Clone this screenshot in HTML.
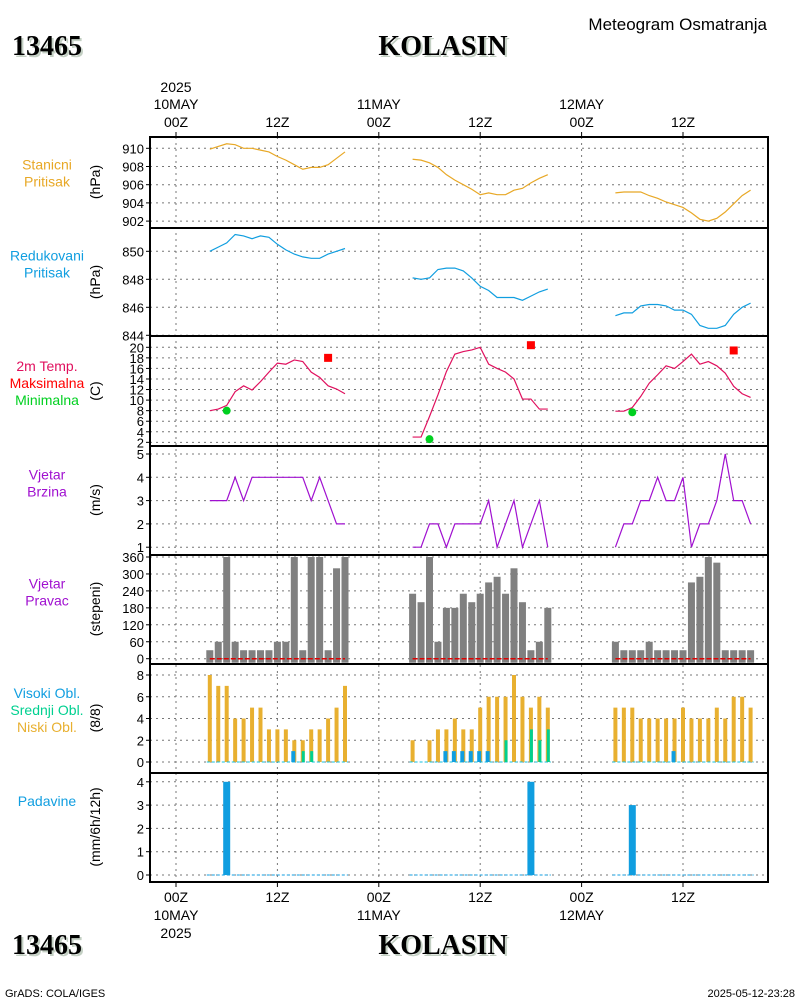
<!DOCTYPE html>
<html><head><meta charset="utf-8"><style>
body{margin:0;background:#fff;}
</style></head><body>
<svg id="chart" width="800" height="1000" viewBox="0 0 800 1000" xmlns="http://www.w3.org/2000/svg" font-family="Liberation Sans, sans-serif">
<rect width="800" height="1000" fill="#fff"/>
<g id="g"></g>
</svg>
<script>
// ---- data (hourly, hours from 10MAY 00Z) ----
const seg1Hours=[4,5,6,7,8,9,10,11,12,13,14,15,16,17,18,19,20];
const seg2Hours=[28,29,30,31,32,33,34,35,36,37,38,39,40,41,42,43,44];
const seg3Hours=[52,53,54,55,56,57,58,59,60,61,62,63,64,65,66,67,68];
const stnPres1=[909.9,910.2,910.5,910.4,910.0,910.0,909.8,909.6,909.1,908.7,908.2,907.7,907.9,907.9,908.2,908.9,909.6];
const stnPres2=[908.8,908.7,908.4,907.9,907.1,906.5,906.0,905.5,904.9,905.1,904.9,904.9,905.4,905.6,906.2,906.7,907.1];
const stnPres3=[905.1,905.2,905.2,905.2,904.8,904.5,904.1,903.8,903.5,902.9,902.2,902.0,902.3,903.0,903.9,904.8,905.4];
const redPres1=[850.0,850.3,850.6,851.2,851.1,850.9,851.1,851.0,850.5,850.1,849.8,849.6,849.5,849.5,849.8,850.0,850.2];
const redPres2=[848.1,848.0,848.1,848.7,848.8,848.8,848.6,848.1,847.5,847.2,846.7,846.7,846.7,846.5,846.8,847.1,847.3];
const redPres3=[845.4,845.6,845.6,846.1,846.2,846.2,846.1,845.8,845.8,845.5,844.7,844.5,844.5,844.7,845.5,846.0,846.3];
const temp1=[8.0,8.3,9.0,11.6,12.7,11.9,13.5,15.3,17.0,16.8,17.6,17.3,15.3,14.3,12.7,12.1,11.2];
const temp2=[3.0,3.0,6.9,11.0,15.4,18.7,19.2,19.5,20.0,16.8,16.0,15.3,14.0,10.2,10.2,8.3,8.3];
const temp3=[7.9,7.9,8.6,10.7,13.2,14.8,16.5,16.0,17.3,18.7,16.8,17.3,16.5,15.1,12.6,11.2,10.5];
const tmaxHours=[18,42,66];
const tmaxVals=[18.0,20.4,19.4];
const tminHours=[6,30,54];
const tminVals=[8.0,2.6,7.7];
const wspd1=[3,3,3,4,3,4,4,4,4,4,4,4,3,4,3,2,2];
const wspd2=[1,1,2,2,1,2,2,2,2,3,1,2,3,1,2,3,1];
const wspd3=[1,2,2,3,3,4,3,3,4,1,2,2,3,5,3,3,2];
const wdir1=[30,60,360,60,30,30,30,30,60,60,360,30,360,360,30,320,360];
const wdir2=[230,200,360,60,180,180,230,200,230,270,290,230,320,200,30,60,180];
const wdir3=[60,30,30,30,60,30,30,30,30,270,290,360,340,30,30,30,30];
const lowCld1=[8,7,7,4,4,5,5,3,3,3,2,2,3,3,4,5,7];
const lowCld2=[2,0,2,3,3,4,3,3,5,6,6,6,8,6,5,6,5];
const lowCld3=[5,5,5,4,4,4,4,4,5,4,4,4,5,4,6,6,5];
const highCldHours=[14,32,33,34,35,36,37,59];
const highCldVals=[1,1,1,1,1,1,1,1];
const midCldHours=[15,16,39,42,43,44];
const midCldVals=[1,1,2,3,2,3];
const precipHours=[6,42,54];
const precipVals=[4,4,3];
const presTicks=[902,904,906,908,910];
const redTicks=[844,846,848,850];
const tempTicks=[2,4,6,8,10,12,14,16,18,20];
const wspdTicks=[1,2,3,4,5];
const wdirTicks=[0,60,120,180,240,300,360];
const cldTicks=[0,2,4,6,8];
const precTicks=[0,1,2,3,4];

// ---- axes ----
const X0=150,X1=768;
const xh=h=>176+h*8.45;
const yP=v=>148.3+(910-v)*9.1;
const yR=v=>251.3+(850-v)*14;
const yT=v=>347.3+(20-v)*5.28;
const yW=v=>477.3+(4-v)*23.3;
const yD=v=>658.7-v*101.7/360;
const yC=v=>762-v*10.875;
const yPr=v=>875-v*23.3;
const panels=[[137,228],[228,336],[336,446],[446,555],[555,664],[664,773],[773,882]];

const NS="http://www.w3.org/2000/svg";
const G=document.getElementById('g');
function mk(tag,attrs,name,parent){
  const e=document.createElementNS(NS,tag);
  for(const k in attrs)e.setAttribute(k,attrs[k]);
  
  
  (parent||G).appendChild(e);return e;
}
function txt(x,y,s,opt,name){
  const t=mk('text',Object.assign({x:x,y:y,'font-size':14,fill:'#000'},opt||{}),name);
  t.textContent=s;return t;
}
for(let h=0;h<=72;h+=12){
  const x=xh(h);
  if(x>X1)break;
  mk('line',{x1:x,y1:137,x2:x,y2:882,stroke:'#777','stroke-dasharray':'2,4','stroke-width':1},'vertical-gridline');
  mk('line',{x1:x,y1:132,x2:x,y2:137,stroke:'#000'},'top-tick');
  mk('line',{x1:x,y1:882,x2:x,y2:887,stroke:'#000'},'bottom-tick');
}
function yGrid(ticks,fy,name){
  ticks.forEach(v=>{
    const y=fy(v);
    mk('line',{x1:X0,y1:y,x2:X1,y2:y,stroke:'#777','stroke-dasharray':'2,4'},name+'-gridline');
    mk('line',{x1:X0-4,y1:y,x2:X0,y2:y,stroke:'#000'},name+'-tick');
    txt(X0-6,y+5,String(v),{'text-anchor':'end','font-size':13},name+'-tick-label');
  });
}
yGrid(presTicks,yP,'station-pressure');
yGrid(redTicks,yR,'reduced-pressure');
yGrid(tempTicks,yT,'temperature');
yGrid(wspdTicks,yW,'wind-speed');
yGrid(wdirTicks,yD,'wind-direction');
yGrid(cldTicks,yC,'cloud');
yGrid(precTicks,yPr,'precip');

function line(hours,vals,fy,color,name){
  const pts=hours.map((h,i)=>xh(h)+','+fy(vals[i])).join(' ');
  mk('polyline',{points:pts,fill:'none',stroke:color,'stroke-width':1.2},name);
}
const segs=[seg1Hours,seg2Hours,seg3Hours];
[stnPres1,stnPres2,stnPres3].forEach((v,i)=>line(segs[i],v,yP,'#e8a826','station-pressure-line'));
[redPres1,redPres2,redPres3].forEach((v,i)=>line(segs[i],v,yR,'#109ee0','reduced-pressure-line'));
[temp1,temp2,temp3].forEach((v,i)=>line(segs[i],v,yT,'#e0105e','temperature-line'));
[wspd1,wspd2,wspd3].forEach((v,i)=>line(segs[i],v,yW,'#a010d0','wind-speed-line'));
tmaxHours.forEach((h,i)=>mk('rect',{x:xh(h)-4,y:yT(tmaxVals[i])-4,width:8,height:8,fill:'#f00'},'tmax-marker'));
tminHours.forEach((h,i)=>mk('circle',{cx:xh(h),cy:yT(tminVals[i]),r:4,fill:'#00d020'},'tmin-marker'));
[wdir1,wdir2,wdir3].forEach((v,i)=>{
  segs[i].forEach((h,j)=>{
    const y=yD(v[j]);
    mk('rect',{x:xh(h)-3.5,y:y,width:7,height:yD(0)+4-y,fill:'#808080'},'wind-direction-bar');
  });
  mk('line',{x1:xh(segs[i][0]),y1:yD(0),x2:xh(segs[i][16]),y2:yD(0),stroke:'#e00000','stroke-dasharray':'5,2','stroke-width':1.5},'wind-direction-baseline');
});
[lowCld1,lowCld2,lowCld3].forEach((v,i)=>{
  segs[i].forEach((h,j)=>{
    if(v[j]<=0)return;
    const y=yC(v[j]);
    mk('rect',{x:xh(h)-2,y:y,width:4,height:yC(0)-y,fill:'#e8b030'},'low-cloud-bar');
  });
  mk('line',{x1:xh(segs[i][0])-3,y1:yC(0),x2:xh(segs[i][16])+3,y2:yC(0),stroke:'#10c0e0','stroke-dasharray':'3,2'},'cloud-baseline');
});
highCldHours.forEach((h,i)=>{const y=yC(highCldVals[i]);mk('rect',{x:xh(h)-3,y:y,width:4,height:yC(0)-y,fill:'#109ee0'},'high-cloud-bar');});
midCldHours.forEach((h,i)=>{const y=yC(midCldVals[i]);mk('rect',{x:xh(h)-1,y:y,width:3,height:yC(0)-y,fill:'#00d090'},'mid-cloud-bar');});
[0,1,2].forEach(i=>mk('line',{x1:xh(segs[i][0])-3,y1:yPr(0),x2:xh(segs[i][16])+3,y2:yPr(0),stroke:'#109ee0','stroke-dasharray':'3,2'},'precip-baseline'));
precipHours.forEach((h,i)=>{const y=yPr(precipVals[i]);mk('rect',{x:xh(h)-3.5,y:y,width:7,height:yPr(0)-y,fill:'#109ee0'},'precip-bar');});
panels.forEach(p=>mk('rect',{x:X0,y:p[0],width:X1-X0,height:p[1]-p[0],fill:'none',stroke:'#000','stroke-width':2},'panel-frame'));

const topLbl=[[0,'00Z','10MAY','2025'],[12,'12Z'],[24,'00Z','11MAY'],[36,'12Z'],[48,'00Z','12MAY'],[60,'12Z']];
topLbl.forEach(a=>{
  const x=xh(a[0]);
  txt(x,127,a[1],{'text-anchor':'middle'},'top-time-label');
  if(a[2])txt(x,109,a[2],{'text-anchor':'middle'},'top-date-label');
  if(a[3])txt(x,92,a[3],{'text-anchor':'middle'},'top-year-label');
  txt(x,902,a[1],{'text-anchor':'middle'},'bottom-time-label');
  if(a[2])txt(x,920,a[2],{'text-anchor':'middle'},'bottom-date-label');
  if(a[3])txt(x,938,a[3],{'text-anchor':'middle'},'bottom-year-label');
});
function lbl(lines,cy,name){
  lines.forEach((l,i)=>txt(47,cy+i*17-(lines.length-1)*8.5+5,l[0],{'text-anchor':'middle',fill:l[1],'font-size':14},name));
}
lbl([['Stanicni','#e8a826'],['Pritisak','#e8a826']],173,'station-pressure-label');
lbl([['Redukovani','#109ee0'],['Pritisak','#109ee0']],264,'reduced-pressure-label');
lbl([['2m Temp.','#e0105e'],['Maksimalna','#f00'],['Minimalna','#00d020']],383,'temperature-label');
lbl([['Vjetar','#a010d0'],['Brzina','#a010d0']],483,'wind-speed-label');
lbl([['Vjetar','#a010d0'],['Pravac','#a010d0']],592,'wind-direction-label');
lbl([['Visoki Obl.','#109ee0'],['Srednji Obl.','#00d090'],['Niski Obl.','#e8b030']],710,'cloud-label');
lbl([['Padavine','#109ee0']],801,'precip-label');
function ylab(s,cy,name){txt(0,0,s,{'text-anchor':'middle',transform:'translate(100,'+cy+') rotate(-90)'},name);}
ylab('(hPa)',182,'station-pressure-unit');
ylab('(hPa)',282,'reduced-pressure-unit');
ylab('(C)',391,'temperature-unit');
ylab('(m/s)',500,'wind-speed-unit');
ylab('(stepeni)',609,'wind-direction-unit');
ylab('(8/8)',718,'cloud-unit');
ylab('(mm/6h/12h)',827,'precip-unit');
function title(x,y,s,anchor,name){
  txt(x+2,y+2,s,{'font-family':'Liberation Serif, serif','font-weight':'bold','font-size':28,fill:'#c4d0c4','text-anchor':anchor},name+'-shadow');
  txt(x,y,s,{'font-family':'Liberation Serif, serif','font-weight':'bold','font-size':28,fill:'#000','text-anchor':anchor},name);
}
title(12,55,'13465','start','station-id-title');
title(443,55,'KOLASIN','middle','station-name-title');
title(12,954,'13465','start','station-id-footer');
title(443,954,'KOLASIN','middle','station-name-footer');
txt(767,30,'Meteogram Osmatranja',{'text-anchor':'end','font-size':17},'chart-title');
txt(5,997,'GrADS: COLA/IGES',{'font-size':11},'grads-credit');
txt(795,997,'2025-05-12-23:28',{'font-size':11,'text-anchor':'end'},'timestamp');
</script>
</body></html>
